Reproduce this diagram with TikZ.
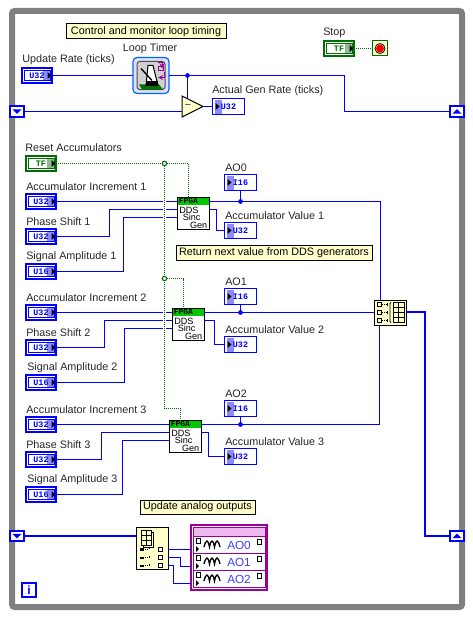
\documentclass[tikz,border=0pt]{standalone}
\usepackage{fontspec}
\setmainfont{Liberation Sans}
\setmonofont{Liberation Mono}
\usetikzlibrary{positioning}
\definecolor{wireblue}{HTML}{0000FF}
\definecolor{boolgreen}{HTML}{006E00}
\definecolor{rimgray}{HTML}{808080}
\definecolor{notefill}{HTML}{FFFFCC}
\definecolor{fpgagreen}{HTML}{00C800}
\definecolor{iopurple}{HTML}{990099}
\definecolor{iopink}{HTML}{F0B8F0}
\newcommand{\termtxt}[1]{\makebox[0pt]{\smash{\raisebox{-2.2pt}{#1}}}}
\tikzset{
	wire/.style={wireblue,line width=0.75pt},
	wirethick/.style={wireblue,line width=1.6pt},
	boolwire/.style={boolgreen,line width=0.75pt,dash pattern=on 0.75pt off 0.75pt},
	lbl/.style={anchor=west,inner sep=0,font=\fontsize{8.1}{10}\selectfont,text=black!85},
	note/.style={draw=black,fill=notefill,line width=0.75pt,inner sep=0,font=\fontsize{8.1}{10}\selectfont},
	pp/.style={shift={(path picture bounding box.center)}},
	ctrl/.style={rectangle,draw=#1,fill=white,line width=1.5pt,minimum width=22.5pt,minimum height=11.25pt,inner sep=0,outer sep=0,
		text=#1,font=\ttfamily\bfseries\fontsize{6.3}{7}\selectfont,
		path picture={
			\fill[#1!45,pp] (6,-5) rectangle (13,5);
			\draw[#1,line width=0.75pt,pp] (-12.5,-5) rectangle (13,5);
			\fill[black,pp] (10.5,-3.5) -- (14.5,0) -- (10.5,3.5) -- cycle;
		}},
	indic/.style={rectangle,draw=wireblue,fill=white,line width=0.9pt,minimum width=24pt,minimum height=12pt,inner sep=0,outer sep=0,
		text=wireblue,font=\ttfamily\bfseries\fontsize{6.3}{7}\selectfont,
		path picture={
			\fill[wireblue!45,pp] (-14,-7) rectangle (-7,7);
			\fill[black,pp] (-13,-3.5) -- (-9,0) -- (-13,3.5) -- cycle;
		}},
	sreg/.style={rectangle,draw=wireblue,fill=notefill!40,line width=1.5pt,minimum width=10.5pt,minimum height=7.5pt,inner sep=0,outer sep=0,
		path picture={\fill[wireblue,pp] (-4.5,-2.2*#1) -- (4.5,-2.2*#1) -- (0,2.5*#1) -- cycle;}},
	ddsbox/.style={rectangle,draw=black,fill=white,line width=0.75pt,minimum width=24pt,minimum height=24pt,inner sep=0,outer sep=0,
		path picture={\fill[fpgagreen,pp] (-16,-16) rectangle (16,-8);}},
	ddstxt/.style={inner sep=0,font=\fontsize{6.8}{7}\selectfont},
	arrbox/.style={rectangle,draw=black,fill=notefill,line width=0.75pt,inner sep=0,outer sep=0},
	junct/.style={circle,fill=wireblue,inner sep=0,minimum size=3.6pt},
	boolj/.style={circle,draw=boolgreen,fill=white,line width=0.75pt,inner sep=0,minimum size=3.2pt},
}
\begin{document}
\begin{tikzpicture}[x=0.75pt,y=-0.75pt,line join=miter,>=stealth]
	\useasboundingbox (0,0) rectangle (473,617);
	% loop border
	\draw[rimgray,line width=4.5pt,rounded corners=2] (12,11) rectangle (462,607);
	% timing part
	\node[note,minimum width=120pt,minimum height=11.25pt] (timingnote) at (146,31.5) {Control and monitor loop timing};
	\node[lbl] (updlbl) at (22,60) {Update Rate (ticks)};
	\node[lbl,anchor=center] (timerlbl) at (150,49) {Loop Timer};
	\node[lbl] (genlbl) at (212,91) {Actual Gen Rate (ticks)};
	\node[lbl] (stoplbl) at (323,33) {Stop};
	\node[ctrl=wireblue] (upd) at (37,75.5) {\termtxt{U32}};
	\node[indic] (gen) at (228.5,106.5) {\termtxt{U32}};
	\node[ctrl=boolgreen] (stopbtn) at (339,48.5) {\termtxt{TF}};
	\node[rectangle,draw=boolgreen,fill=notefill,line width=0.75pt,minimum size=11.25pt,inner sep=0,outer sep=0] (stopicon) at (380,48.5) {};
	\node[sreg=1,minimum height=8.25pt] (srtop) at (17,111.5) {};
	\node[sreg=-1,minimum height=8.25pt] (srtopr) at (457,111.5) {};
	\node[rectangle,rounded corners=3pt,draw=blue!60!cyan,fill=blue!12,line width=0.9pt,minimum width=27pt,minimum height=27pt,inner sep=0,outer sep=0] (timer) at (151,75.5) {};
	\coordinate (subin) at (182,111.5);
	\coordinate (subtop) at (187.5,99);
	\coordinate (subout) at (203,106.5);
	\fill[notefill,draw=black,line width=0.75pt] (182,96) -- (203,106.5) -- (182,117) -- cycle;
	\node[inner sep=0,font=\fontsize{7}{8}\selectfont] (subsign) at (188,106) {--};
	\fill[red] (stopicon.center) circle (4);
	\draw[black,line width=0.6pt] (stopicon.center) circle (5);
	% timer icon
	\begin{scope}[shift={(timer.center)}]
		\draw[black!70,fill=black!18,line width=0.75pt,rounded corners=2pt] (-14,-14) rectangle (14,14);
		\fill[green!45!black] (-12,9) -- (8,9) -- (12,14) -- (-9,14) -- cycle;
		\draw[black,fill=white,line width=0.75pt] (-5,10) -- (-3,-10) -- (2,-10) -- (7,10) -- cycle;
		\draw[black,line width=1pt] (-10,-7) -- (1,5);
		\fill[black] (-5,6) rectangle (7,10);
		\draw[iopurple,line width=0.75pt,->] (7,-13) -- (11,-13) -- (11,-7);
		\draw[iopurple,line width=0.75pt,->] (13,-3) -- (13,2) -- (7,2);
		\draw[iopurple,line width=0.75pt] (7,-9) rectangle (12,-5);
	\end{scope}
	% dds rows
	\foreach \n/\i/\ddsx/\ddsy/\incy/\psy/\sax/\psx/\asx/\aoy/\valy/\bendx in {
		a/1/193/213/201.5/236.5/26/109.5/123.5/182.5/230.5/216.5,
		b/2/188/324/312.5/347.5/27/104.5/124.5/296.5/344.5/214.5,
		c/3/185/436/424.5/459.5/27/101.5/122.5/408.5/456.5/208.5}{
		\node[ddsbox] (dds\n) at (\ddsx,\ddsy) {};
		\node[inner sep=0,font=\ttfamily\bfseries\fontsize{6}{6}\selectfont,anchor=west] (fpga\n) at ([shift={(-14.5,-12)}]dds\n.center) {FPGA};
		\node[ddstxt,anchor=west] (ddsname\n) at ([shift={(-14,-3)}]dds\n.center) {DDS};
		\node[ddstxt,anchor=west] (sinc\n) at ([shift={(-10.5,4.5)}]dds\n.center) {Sinc};
		\node[ddstxt,anchor=east] (gen\n) at ([shift={(14.5,12)}]dds\n.center) {Gen};
		\path (dds\n.center) ++(-16,-3.5) coordinate (ddsin\n) ++(0,8) coordinate (ddsam\n);
		\path (dds\n.center) ++(16,-3.5) coordinate (ddsval\n);
		\path (dds\n.center) ++(-4.5,-16) coordinate (ddstop\n);
		\node[ctrl=wireblue] (inc\n) at (41,\incy) {\termtxt{U32}};
		\node[ctrl=wireblue] (phase\n) at (41,\psy) {\termtxt{U32}};
		\node[ctrl=wireblue] (amp\n) at (41,\psy+35) {\termtxt{U16}};
		\node[lbl] (inclbl\n) at (26,\incy-15) {Accumulator Increment \i};
		\node[lbl] (phaselbl\n) at (26,\psy-15) {Phase Shift \i};
		\node[lbl] (amplbl\n) at (\sax,\psy+20) {Signal Amplitude \i};
		\node[indic] (ao\n) at (240.5,\aoy) {\termtxt{I16}};
		\node[indic] (val\n) at (240.5,\valy) {\termtxt{U32}};
		\node[lbl] (aolbl\n) at (225,\aoy-15) {AO\the\numexpr\i-1\relax};
		\node[lbl] (vallbl\n) at (225,\valy-15) {Accumulator Value \i};
		\draw[wire] (inc\n.east) -- (dds\n.west |- inc\n.east);
		\draw[wire] (phase\n.east) -- (\psx,\psy) |- (ddsin\n);
		\draw[wire] (amp\n.east) -- (\asx,\psy+35) |- (ddsam\n);
		\draw[wire] (ddsval\n) -- (\bendx,\ddsy-3.5) |- (val\n.west);
		\node[junct] (j\n) at (ao\n.south |- inc\n.east) {};
		\draw[wire] (ao\n.south) -- (j\n.center);
	}
	\node[note,minimum width=147pt,minimum height=11.25pt] (ddsnote) at (274,252.5) {Return next value from DDS generators};
	\node[note,minimum width=86.25pt,minimum height=10.5pt] (ionote) at (197.5,507) {Update analog outputs};
	% array nodes
	\node[arrbox,minimum width=24pt,minimum height=18.75pt] (build) at (390,312.5) {};
	\node[arrbox,minimum width=24pt,minimum height=32pt] (index) at (152,548.5) {};
	\foreach \n in {a,b,c}
		\draw[wire] (dds\n.east |- inc\n.east) -- (j\n.center);
	\draw[wire] (ja.center) -| (380.5,300);
	\draw[wire] (jb.center) -- (build.west);
	\draw[wire] (jc.center) -| (379.5,325);
	\begin{scope}[shift={(build.center)}]
		\foreach \d in {-8,0,8}{
			\draw[black,line width=0.6pt] (-13,\d-2) rectangle (-9,\d+2);
			\draw[black,line width=0.6pt,densely dotted] (-8,\d) -- (-2,\d);
			\fill[black] (-3,\d-1.5) rectangle (-2,\d+1.5);
		}
		\draw[black,line width=0.6pt] (1,-10) -- (0,-9) -- (0,9) -- (1,10);
		\draw[black,line width=0.75pt] (3,-10) rectangle (14,10);
		\draw[black,line width=0.6pt] (8.5,-10) -- (8.5,10) (3,-5) -- (14,-5) (3,0) -- (14,0) (3,5) -- (14,5);
	\end{scope}
	\begin{scope}[shift={(index.center)}]
		\draw[black,line width=0.75pt] (-11,-18) rectangle (-1,-3);
		\draw[black,line width=0.6pt] (-11,-13) -- (-1,-13) (-11,-8) -- (-1,-8) (-6,-18) -- (-6,-3) (-1,-16) -- (1,-16) -- (1,-1) -- (-9,-1) -- (-9,-3);
		\foreach \d in {0.5,9,17}{
			\fill[black] (-12,\d-1) rectangle (-8,\d+1.5);
			\draw[black,line width=0.6pt,densely dotted] (-7,\d) -- (-3,\d);
			\fill[black] (-3,\d-2) rectangle (-2,\d);
			\draw[black,line width=0.6pt] (6,\d-2) rectangle (10,\d+2);
		}
	\end{scope}
	% io node
	\node[rectangle,draw=iopurple,fill=white,line width=1.5pt,minimum width=57pt,minimum height=48.75pt,inner sep=0,outer sep=0] (ionode) at (229,557.5) {};
	\fill[iopink] (193,527) rectangle (265,536);
	\draw[iopurple,line width=0.75pt] (193,527) rectangle (265,587);
	\foreach \n/\y/\t in {x/536/AO0,y/553/AO1,z/570/AO2}{
		\draw[iopurple,line width=0.75pt] (193,\y) -- (265,\y);
		\node[inner sep=0,font=\fontsize{8.8}{10}\selectfont,text=blue!75!white] (io\n) at (239,\y+9) {\t};
		\coordinate (iopin\n) at (191,\y+13.5);
		\draw[black,line width=0.6pt] (196,\y+2) rectangle (200,\y+7);
		\draw[black,line width=0.6pt] (257,\y+3) rectangle (261,\y+8);
		\fill[black] (196,\y+10) -- (199,\y+13) -- (196,\y+16) -- cycle;
		\draw[black,line width=1pt] (204,\y+11) .. controls (206,\y+3) and (208,\y+3) .. (209.5,\y+11) .. controls (211,\y+3) and (213,\y+3) .. (214.5,\y+11) .. controls (216,\y+3) and (218,\y+3) .. (220,\y+11);
	}
	\draw[wire] (168,549.5) -- (iopinx);
	\draw[wire] (168,557.5) -- (180.5,557.5) |- (iopiny);
	\draw[wire] (168,565.5) -- (173.5,565.5) |- (iopinz);
	\node[sreg=1] (srbot) at (17,536) {};
	\node[sreg=-1] (srbotr) at (457,536) {};
	\draw[wirethick] (srbot.east) -- (index.west |- srbot.east);
	\draw[wirethick] (406,312) -- (425,312) |- (srbotr.west);
	\node[rectangle,draw=wireblue,fill=white,line width=1.5pt,minimum width=10.5pt,minimum height=10.5pt,inner sep=0,font=\bfseries\fontsize{9}{9}\selectfont,text=wireblue] (iter) at (29,590) {i};
	% timing wires
	\node[junct] (jtime) at (187.5,75.5) {};
	\draw[wire] (upd.east) -- (timer.west);
	\draw[wire] (timer.east) -- (jtime.center) -- (344.5,75.5) |- (srtopr.west);
	\draw[wire] (jtime.center) -- (subtop);
	\draw[wire] (srtop.east) -- (subin);
	\draw[wire] (subout) -- (gen.west);
	\draw[boolwire] (stopbtn.east) -- (stopicon.west);
	% boolean wires
	\node[ctrl=boolgreen] (reset) at (41,163.5) {\termtxt{TF}};
	\node[lbl] (resetlbl) at (25,148) {Reset Accumulators};
	\node[boolj] (jreset) at (164.5,163.5) {};
	\node[boolj] (jmid) at (164.5,278.5) {};
	\draw[boolwire,preaction={draw=white,solid,line width=2pt}] (jreset.center) -- (164.5,408.5) -| (ddstopc);
	\draw[boolwire] (reset.east) -- (jreset.west);
	\draw[boolwire] (jreset.east) -| (ddstopa);
	\draw[boolwire] (jmid.east) -| (ddstopb);
	\node[boolj] at (jreset.center) {};
	\node[boolj] at (jmid.center) {};
\end{tikzpicture}
\end{document}
